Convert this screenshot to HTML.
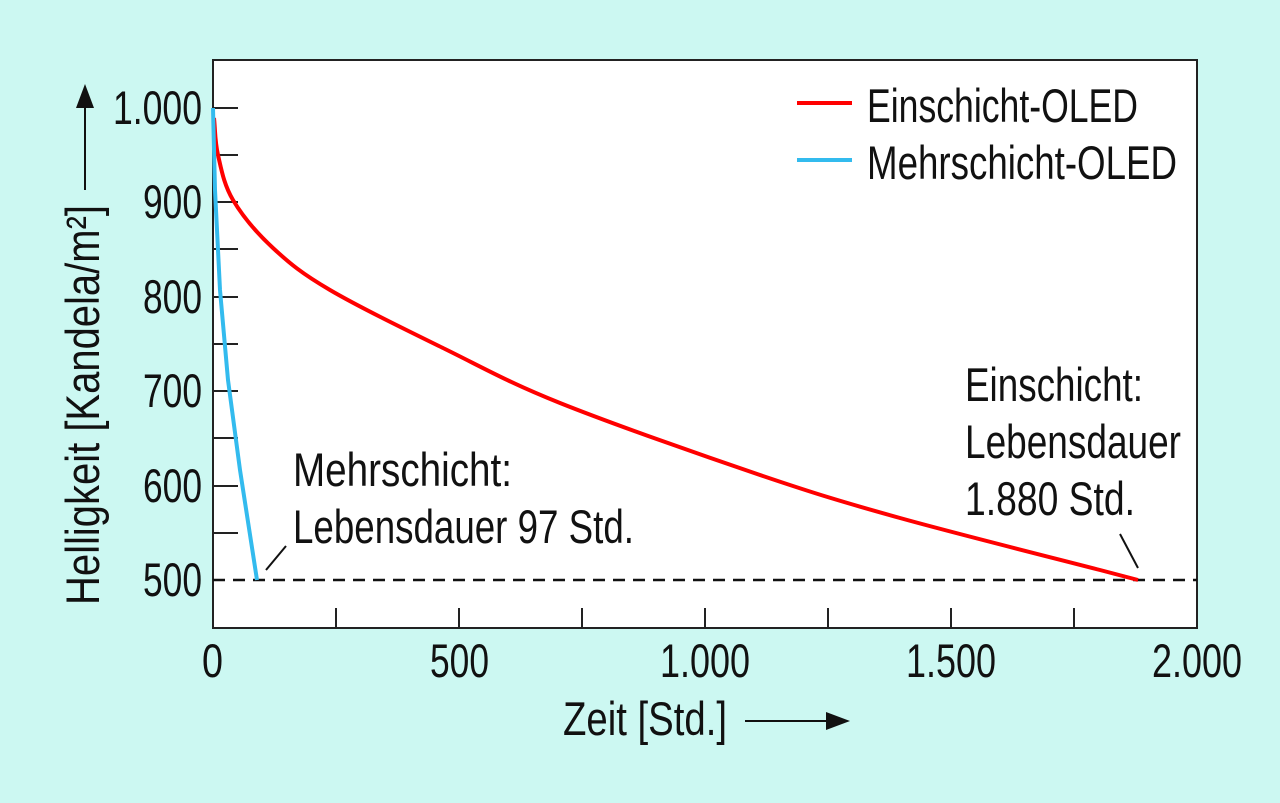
<!DOCTYPE html>
<html><head><meta charset="utf-8"><style>html,body{margin:0;padding:0;background:#ccf8f2;}svg{display:block}</style></head>
<body>
<svg width="1280" height="803" viewBox="0 0 1280 803" xmlns="http://www.w3.org/2000/svg" font-family="Liberation Sans, sans-serif" font-size="47" fill="#111">
<rect width="1280" height="803" fill="#ccf8f2"/>
<rect x="213" y="60" width="984" height="568" fill="#fff" stroke="#222" stroke-width="2"/>
<g stroke="#222" stroke-width="2">
<line x1="213" y1="108" x2="238" y2="108"/><line x1="213" y1="155" x2="238" y2="155"/>
<line x1="213" y1="202" x2="238" y2="202"/><line x1="213" y1="249" x2="238" y2="249"/>
<line x1="213" y1="297" x2="238" y2="297"/><line x1="213" y1="344" x2="238" y2="344"/>
<line x1="213" y1="391" x2="238" y2="391"/><line x1="213" y1="438" x2="238" y2="438"/>
<line x1="213" y1="486" x2="238" y2="486"/><line x1="213" y1="533" x2="238" y2="533"/>
<line x1="336" y1="628" x2="336" y2="608"/><line x1="459" y1="628" x2="459" y2="608"/>
<line x1="582" y1="628" x2="582" y2="608"/><line x1="705" y1="628" x2="705" y2="608"/>
<line x1="828" y1="628" x2="828" y2="608"/><line x1="951" y1="628" x2="951" y2="608"/>
<line x1="1074" y1="628" x2="1074" y2="608"/>
</g>
<line x1="213" y1="580" x2="1197" y2="580" stroke="#111" stroke-width="2.5" stroke-dasharray="12,8"/>
<path fill="none" stroke="#f00" stroke-width="4" stroke-linejoin="round" d="M214,118 C215.3,130.3 214.8,141.3 218,155 C221.2,168.7 223.8,184.5 233,200 C242.2,215.5 256.8,233 273,248 C289.2,263 301.3,273.2 330,290 C358.7,306.8 406.7,330.2 445,349 C483.3,367.8 507.5,382 560,403 C612.5,424 703.3,455.8 760,475 C816.7,494.2 843.3,502.2 900,518 C956.7,533.8 1060.3,559.7 1100,570 C1112.7,573.3 1125.3,576.7 1138,580"/>
<polyline fill="none" stroke="#33bbee" stroke-width="4" points="213,108 215,190 220,290 228,380 240,470 257,580"/>
<g stroke="#111" stroke-width="2"><line x1="266" y1="570" x2="286" y2="546"/><line x1="1120" y1="534" x2="1138" y2="568"/></g>
<line x1="797" y1="103" x2="852" y2="103" stroke="#f00" stroke-width="4"/>
<line x1="797" y1="160" x2="852" y2="160" stroke="#33bbee" stroke-width="4"/>
<g>
<text x="867" y="122" textLength="271" lengthAdjust="spacingAndGlyphs">Einschicht-OLED</text>
<text x="867" y="179" textLength="310" lengthAdjust="spacingAndGlyphs">Mehrschicht-OLED</text>
<text x="293" y="486" textLength="219" lengthAdjust="spacingAndGlyphs">Mehrschicht:</text>
<text x="293" y="543" textLength="341" lengthAdjust="spacingAndGlyphs">Lebensdauer 97 Std.</text>
<text x="965" y="401" textLength="178" lengthAdjust="spacingAndGlyphs">Einschicht:</text>
<text x="965" y="458" textLength="216" lengthAdjust="spacingAndGlyphs">Lebensdauer</text>
<text x="965" y="515" textLength="170" lengthAdjust="spacingAndGlyphs">1.880 Std.</text>
<text x="113" y="124" textLength="89" lengthAdjust="spacingAndGlyphs">1.000</text>
<text x="143" y="218" textLength="59" lengthAdjust="spacingAndGlyphs">900</text>
<text x="143" y="313" textLength="59" lengthAdjust="spacingAndGlyphs">800</text>
<text x="143" y="407" textLength="59" lengthAdjust="spacingAndGlyphs">700</text>
<text x="143" y="502" textLength="59" lengthAdjust="spacingAndGlyphs">600</text>
<text x="143" y="596" textLength="59" lengthAdjust="spacingAndGlyphs">500</text>
<text x="202" y="677" textLength="21" lengthAdjust="spacingAndGlyphs">0</text>
<text x="430" y="677" textLength="59" lengthAdjust="spacingAndGlyphs">500</text>
<text x="660" y="677" textLength="90" lengthAdjust="spacingAndGlyphs">1.000</text>
<text x="906" y="677" textLength="90" lengthAdjust="spacingAndGlyphs">1.500</text>
<text x="1152" y="677" textLength="90" lengthAdjust="spacingAndGlyphs">2.000</text>
<text x="563" y="735" textLength="164" lengthAdjust="spacingAndGlyphs">Zeit [Std.]</text>
<text transform="translate(99,605) rotate(-90)" x="0" y="0" textLength="400" lengthAdjust="spacingAndGlyphs">Helligkeit [Kandela/m²]</text>
</g>
<line x1="745" y1="721" x2="830" y2="721" stroke="#111" stroke-width="2"/>
<polygon points="850,721 826,712 826,730" fill="#111"/>
<line x1="85" y1="190" x2="85" y2="105" stroke="#111" stroke-width="2"/>
<polygon points="85,84 76,108 94,108" fill="#111"/>
</svg>
</body></html>
